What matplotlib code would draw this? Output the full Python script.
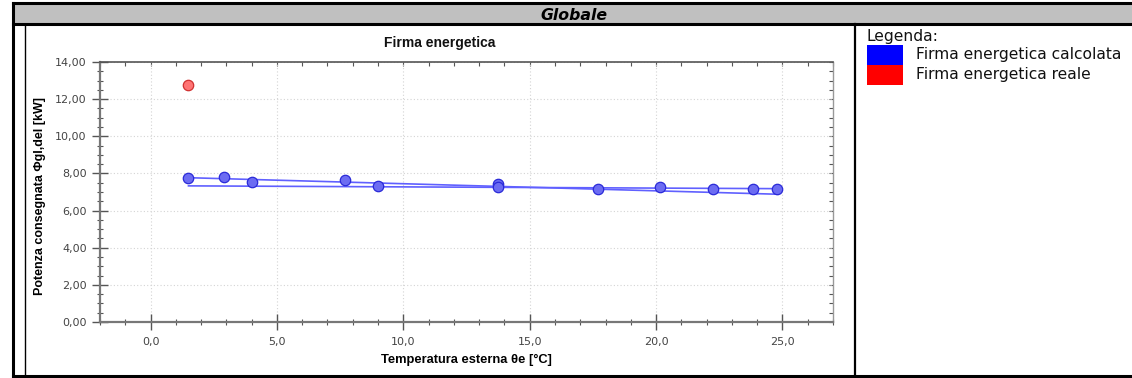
import numpy as np
import matplotlib.pyplot as plt
from matplotlib.lines import Line2D
from matplotlib.patches import Rectangle
from matplotlib.ticker import MultipleLocator, FuncFormatter, NullFormatter

# --- data ---
temp_calc = [1.5, 2.9, 4.0, 7.7, 9.0, 13.75, 13.75, 17.7, 20.15, 22.25, 23.85, 24.8]
pot_calc = [7.77, 7.82, 7.56, 7.66, 7.33, 7.43, 7.25, 7.18, 7.29, 7.18, 7.18, 7.18]

temp_real = [1.5]
pot_real = [12.76]

# two fitted lines (end points)
fit_x = [1.5, 24.8]
fit_upper = [7.77, 6.88]
fit_lower = [7.33, 7.18]

legend_labels = ["Firma energetica calcolata", "Firma energetica reale"]
legend_colors = ["#0000ff", "#ff0000"]

W, H = 1132, 378
fig = plt.figure(figsize=(W / 100, H / 100), dpi=100)


def fx(px):
    return px / W


def fy(py):
    return 1 - py / H


# header band and frame
fig.add_artist(Rectangle((fx(13), fy(24)), fx(W - 13), fy(4) - fy(24),
                         facecolor="#c0c0c0", edgecolor="none"))
for (x0, y0, x1, y1, lw) in [(13, 3, W, 3, 2.2), (13, 24, W, 24, 2.2),
                             (13, 3, 13, 376, 2.2), (13, 375.5, W, 375.5, 2.2),
                             (25, 24, 25, 376, 1.0), (855, 24, 855, 376, 1.6)]:
    fig.add_artist(Line2D([fx(x0), fx(x1)], [fy(y0), fy(y1)], color="black", lw=lw))

fig.text(fx(574), fy(15), "Globale", ha="center", va="center",
         fontsize=11.3, fontweight="bold", fontstyle="italic", family="DejaVu Sans")

# legend on the right
fig.text(fx(867), fy(37), "Legenda:", ha="left", va="center", fontsize=11.2,
         family="DejaVu Sans", color="#111111")
for i, (lab, col) in enumerate(zip(legend_labels, legend_colors)):
    top = 45 + 20 * i
    fig.add_artist(Rectangle((fx(867), fy(top + 20)), fx(36), fy(top) - fy(top + 20),
                             facecolor=col, edgecolor="none"))
    fig.text(fx(916), fy(top + 10), lab, ha="left", va="center", fontsize=11.2,
             family="DejaVu Sans", color="#111111")

# chart
ax = fig.add_axes([fx(100), fy(322), fx(833) - fx(100), fy(62) - fy(322)])

ax.plot(fit_x, fit_upper, color="#6060ff", lw=1.2, zorder=2)
ax.plot(fit_x, fit_lower, color="#6060ff", lw=1.2, zorder=2)
ax.plot(temp_calc, pot_calc, "o", ms=7.5, mfc="#6c6cf2", mec="#2a2ad8", mew=0.9, zorder=3)
ax.plot(temp_real, pot_real, "o", ms=7.5, mfc="#ff7474", mec="#d03030", mew=0.9, zorder=3)

ax.set_xlim(-2, 27)
ax.set_ylim(0, 14)
ax.xaxis.set_major_locator(MultipleLocator(5))
ax.xaxis.set_minor_locator(MultipleLocator(1))
ax.yaxis.set_major_locator(MultipleLocator(2))
ax.yaxis.set_minor_locator(MultipleLocator(0.5))
ax.xaxis.set_major_formatter(FuncFormatter(lambda v, p: f"{v:.1f}".replace(".", ",")))
ax.yaxis.set_major_formatter(FuncFormatter(lambda v, p: f"{v:.2f}".replace(".", ",")))

ax.grid(True, which="major", color="#d4d4d4", linestyle=(0, (1, 2)), lw=0.8)
ax.set_axisbelow(True)

for side in ["left", "bottom"]:
    ax.spines[side].set_color("#777777")
    ax.spines[side].set_linewidth(1.6)
ax.spines["top"].set_color("#555555")
ax.spines["top"].set_linewidth(1.2)
ax.spines["right"].set_color("#999999")
ax.spines["right"].set_linewidth(1.0)

ax.tick_params(which="major", direction="inout", length=11, width=1.0, color="#555555",
               labelsize=8, labelcolor="#444444")
ax.tick_params(which="minor", direction="inout", length=5, width=0.8, color="#555555")
ax.tick_params(axis="x", pad=5)
ax.tick_params(axis="y", pad=4)
for lab in ax.get_xticklabels() + ax.get_yticklabels():
    lab.set_family("DejaVu Sans")

# small inward ticks on top and right edges
top = ax.secondary_xaxis("top")
top.xaxis.set_major_locator(MultipleLocator(5))
top.xaxis.set_minor_locator(MultipleLocator(1))
top.xaxis.set_major_formatter(NullFormatter())
top.tick_params(which="both", direction="in", length=3, width=0.8, color="#555555")
top.spines["top"].set_visible(False)
right = ax.secondary_yaxis("right")
right.yaxis.set_major_locator(MultipleLocator(2))
right.yaxis.set_minor_locator(MultipleLocator(0.5))
right.yaxis.set_major_formatter(NullFormatter())
right.tick_params(which="both", direction="in", length=3, width=0.8, color="#555555")
right.spines["right"].set_visible(False)

ax.set_xlabel("Temperatura esterna θe [°C]", fontsize=9.3, fontweight="bold",
              family="Liberation Sans", labelpad=5)
ax.set_ylabel("Potenza consegnata Φgl,del [kW]", fontsize=9, fontweight="bold",
              family="Liberation Sans")
ax.yaxis.set_label_coords(-0.074, 0.485)

fig.text(fx(440), fy(43), "Firma energetica", ha="center", va="center", fontsize=10,
         fontweight="bold", family="Liberation Sans", color="#111111")

fig.savefig("out.png", dpi=100)
